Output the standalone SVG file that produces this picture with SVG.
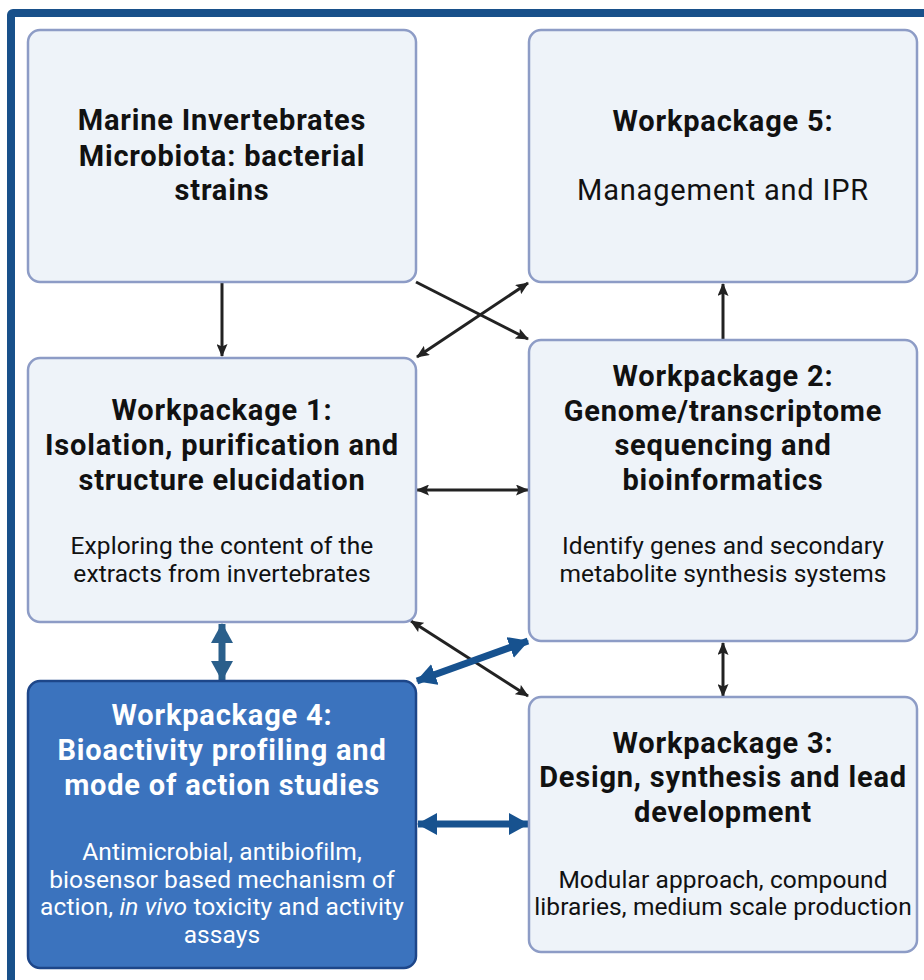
<svg xmlns="http://www.w3.org/2000/svg" width="924" height="980" viewBox="0 0 924 980">
<defs>
<style>
.box{fill:#eef3f9;stroke:#8d9cc6;stroke-width:2.5}
.box4{fill:#3b73be;stroke:#1d4689;stroke-width:2.5}
.t{font-family:Roboto,"Liberation Sans",sans-serif;text-anchor:middle;fill:#111}
.b{font-weight:bold;font-size:29px;letter-spacing:0.8px}
.r{font-size:24.5px;letter-spacing:0.1px}
.w{fill:#fff}
.blk{stroke:#222;stroke-width:3;fill:none}
.blu{stroke:#17528f;stroke-width:7;fill:none}
.blu2{stroke:#2a5f8b;stroke-width:7;fill:none}
</style>
<marker id="ah" viewBox="0 0 13 11" refX="12" refY="5.5" markerWidth="13" markerHeight="11" markerUnits="userSpaceOnUse" orient="auto-start-reverse">
<path d="M0,0 L13,5.5 L0,11 L2.5,5.5 Z" fill="#222"/>
</marker>
<marker id="bh" viewBox="0 0 20 22" refX="19" refY="11" markerWidth="20" markerHeight="22" markerUnits="userSpaceOnUse" orient="auto-start-reverse">
<path d="M0,0 L20,11 L0,22 Z" fill="#17528f"/>
</marker>
<marker id="bh2" viewBox="0 0 20 22" refX="19" refY="11" markerWidth="20" markerHeight="22" markerUnits="userSpaceOnUse" orient="auto-start-reverse">
<path d="M0,0 L20,11 L0,22 Z" fill="#2a5f8b"/>
</marker>
</defs>
<rect x="0" y="0" width="924" height="980" fill="#fff"/>
<rect x="11" y="13" width="940" height="990" fill="none" stroke="#18508a" stroke-width="8" rx="2"/>

<g id="connectors">
<path class="blk" d="M222,282 L222,356" marker-end="url(#ah)"/>
<path class="blk" d="M416,282 L528,339" marker-end="url(#ah)"/>
<path class="blk" d="M417,357 L528,283" marker-start="url(#ah)" marker-end="url(#ah)"/>
<path class="blk" d="M723,340 L723,284" marker-end="url(#ah)"/>
<path class="blk" d="M417,490 L528,490" marker-start="url(#ah)" marker-end="url(#ah)"/>
<path class="blk" d="M723,643 L723,696" marker-start="url(#ah)" marker-end="url(#ah)"/>
<path class="blk" d="M411,621 L528,696" marker-start="url(#ah)" marker-end="url(#ah)"/>
<path class="blu2" d="M222,624 L222,680" marker-start="url(#bh2)" marker-end="url(#bh2)"/>
<path class="blu" d="M417,681 L528,641" marker-start="url(#bh)" marker-end="url(#bh)"/>
<path class="blu" d="M418,824 L528,824" marker-start="url(#bh)" marker-end="url(#bh)"/>
</g>

<g id="marine">
<rect class="box" x="28" y="30" width="388" height="252" rx="12"/>
<text class="t b" x="222" y="130">Marine Invertebrates</text>
<text class="t b" x="222" y="166">Microbiota: bacterial</text>
<text class="t b" x="222" y="200">strains</text>
</g>

<g id="wp5">
<rect class="box" x="529" y="30" width="388" height="252" rx="12"/>
<text class="t b" x="723" y="131">Workpackage 5:</text>
<text class="t" x="723" y="200" font-size="29" letter-spacing="0.8">Management and IPR</text>
</g>

<g id="wp1">
<rect class="box" x="28" y="358" width="388" height="264" rx="12"/>
<text class="t b" x="222" y="420">Workpackage 1:</text>
<text class="t b" x="222" y="455">Isolation, purification and</text>
<text class="t b" x="222" y="490">structure elucidation</text>
<text class="t r" x="222" y="554">Exploring the content of the</text>
<text class="t r" x="222" y="582">extracts from invertebrates</text>
</g>

<g id="wp2">
<rect class="box" x="529" y="340" width="388" height="301" rx="12"/>
<text class="t b" x="723" y="386">Workpackage 2:</text>
<text class="t b" x="723" y="421">Genome/transcriptome</text>
<text class="t b" x="723" y="455">sequencing and</text>
<text class="t b" x="723" y="490">bioinformatics</text>
<text class="t r" x="723" y="554">Identify genes and secondary</text>
<text class="t r" x="723" y="582">metabolite synthesis systems</text>
</g>

<g id="wp4">
<rect class="box4" x="28" y="681" width="388" height="287" rx="12"/>
<text class="t b w" x="222" y="725">Workpackage 4:</text>
<text class="t b w" x="222" y="760">Bioactivity profiling and</text>
<text class="t b w" x="222" y="795">mode of action studies</text>
<text class="t r w" x="222" y="860">Antimicrobial, antibiofilm,</text>
<text class="t r w" x="222" y="888">biosensor based mechanism of</text>
<text class="t r w" x="222" y="915">action, <tspan font-style="italic">in vivo</tspan> toxicity and activity</text>
<text class="t r w" x="222" y="943">assays</text>
</g>

<g id="wp3">
<rect class="box" x="529" y="697" width="388" height="255" rx="12"/>
<text class="t b" x="723" y="753">Workpackage 3:</text>
<text class="t b" x="723" y="787">Design, synthesis and lead</text>
<text class="t b" x="723" y="822">development</text>
<text class="t r" x="723" y="888">Modular approach, compound</text>
<text class="t r" x="723" y="915">libraries, medium scale production</text>
</g>
</svg>
